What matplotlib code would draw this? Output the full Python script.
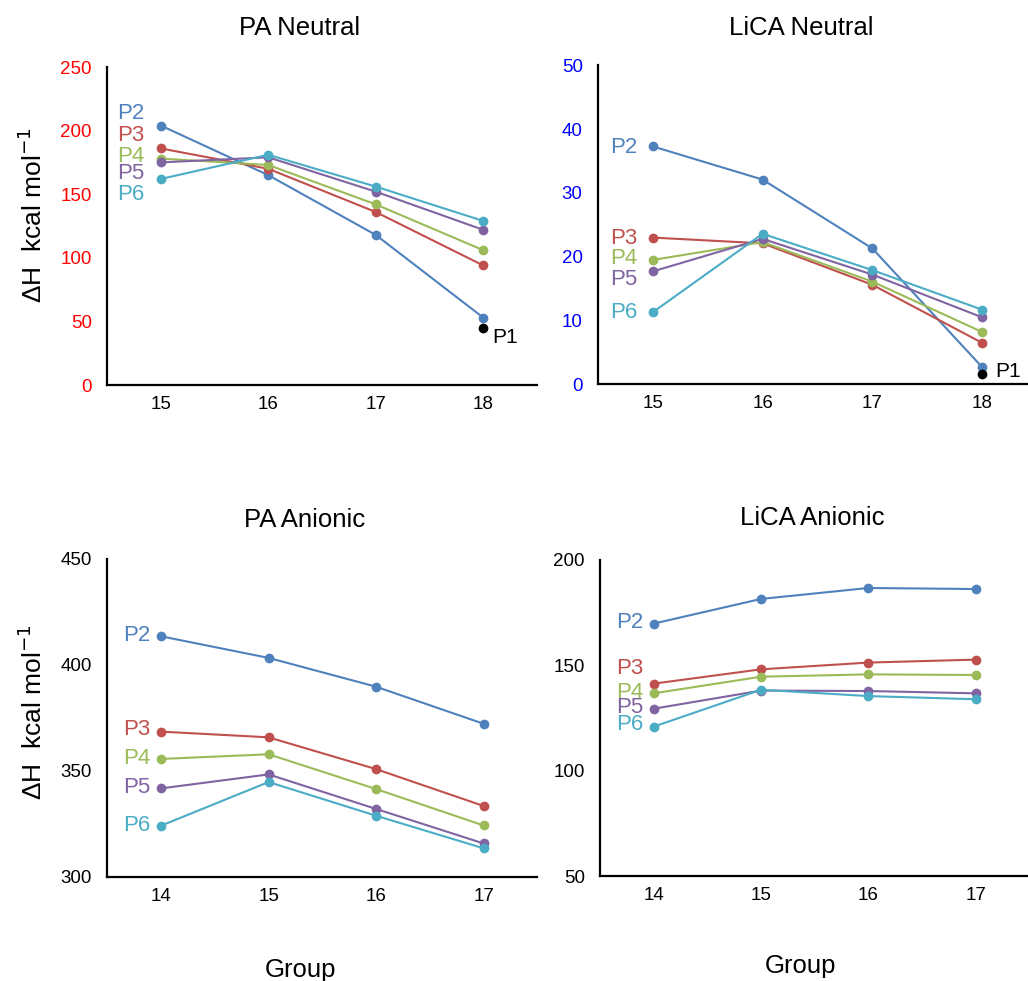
import matplotlib.pyplot as plt

plt.rcParams['font.family'] = ['Liberation Sans', 'DejaVu Sans']

# group numbers on the x axis
groups_neutral = [15, 16, 17, 18]
groups_anionic = [14, 15, 16, 17]

series_names = ['P2', 'P3', 'P4', 'P5', 'P6']
series_colors = ['#4F81BD', '#C0504D', '#9BBB59', '#8064A2', '#4BACC6']

# PA neutral (kcal/mol)
pa_neu_p2 = [204, 165, 118, 53]
pa_neu_p3 = [186, 170, 136, 94]
pa_neu_p4 = [178, 173, 142, 106]
pa_neu_p5 = [175, 179, 152, 122]
pa_neu_p6 = [162, 181, 156, 129]
pa_neu_p1 = 45

# LiCA neutral
lica_neu_p2 = [37.3, 32.1, 21.3, 2.7]
lica_neu_p3 = [23.0, 22.1, 15.6, 6.5]
lica_neu_p4 = [19.5, 22.3, 16.1, 8.2]
lica_neu_p5 = [17.7, 22.8, 17.2, 10.5]
lica_neu_p6 = [11.3, 23.6, 17.9, 11.7]
lica_neu_p1 = 1.6

# PA anionic
pa_ani_p2 = [413.5, 403.3, 389.7, 372.2]
pa_ani_p3 = [368.5, 365.8, 350.8, 333.4]
pa_ani_p4 = [355.6, 357.8, 341.4, 324.2]
pa_ani_p5 = [341.7, 348.3, 332.0, 315.7]
pa_ani_p6 = [324.1, 344.7, 328.8, 313.4]

# LiCA anionic
lica_ani_p2 = [169.8, 181.5, 186.7, 186.2]
lica_ani_p3 = [141.3, 148.1, 151.3, 152.7]
lica_ani_p4 = [136.7, 144.6, 145.7, 145.4]
lica_ani_p5 = [129.4, 138.0, 137.8, 136.7]
lica_ani_p6 = [120.9, 138.4, 135.4, 133.9]

fig = plt.figure(figsize=(10.28, 9.81), dpi=100)

panels = [
    # axes rect, x values, series, ylim, yticks, tick colour, label x, label ys
    ([0.1041, 0.6075, 0.4183, 0.3242], groups_neutral,
     [pa_neu_p2, pa_neu_p3, pa_neu_p4, pa_neu_p5, pa_neu_p6],
     (0, 250), range(0, 251, 50), 'red', 14.85, [213.6, 196.5, 180, 166.4, 150]),
    ([0.5817, 0.6083, 0.4270, 0.3250], groups_neutral,
     [lica_neu_p2, lica_neu_p3, lica_neu_p4, lica_neu_p5, lica_neu_p6],
     (0, 50), range(0, 51, 10), 'blue', 14.86, [37.2, 22.9, 19.8, 16.4, 11.3]),
    ([0.1044, 0.1063, 0.4183, 0.3239], groups_anionic,
     [pa_ani_p2, pa_ani_p3, pa_ani_p4, pa_ani_p5, pa_ani_p6],
     (300, 450), range(300, 451, 50), 'black', 13.90, [413.8, 369.3, 355.9, 342.2, 324.4]),
    ([0.5837, 0.1070, 0.4176, 0.3222], groups_anionic,
     [lica_ani_p2, lica_ani_p3, lica_ani_p4, lica_ani_p5, lica_ani_p6],
     (50, 200), range(50, 201, 50), 'black', 13.90, [170.4, 148.6, 137.2, 129.9, 121.7]),
]

axes = []
for rect, xs, series, ylim, yticks, tcol, lx, lys in panels:
    ax = fig.add_axes(rect)
    for vals, name, col, ly in zip(series, series_names, series_colors, lys):
        ax.plot(xs, vals, color=col, lw=1.5, marker='o', ms=6)
        ax.text(lx, ly, name, color=col, fontsize=16, ha='right', va='center')
    ax.set_xlim(xs[0] - 0.5, xs[-1] + 0.5)
    ax.set_ylim(*ylim)
    ax.set_xticks(xs)
    ax.set_yticks(list(yticks))
    ax.tick_params(axis='both', length=0, labelsize=13.5)
    ax.tick_params(axis='y', pad=11, labelcolor=tcol)
    ax.tick_params(axis='x', pad=8)
    for s in ['top', 'right']:
        ax.spines[s].set_visible(False)
    for s in ['left', 'bottom']:
        ax.spines[s].set_linewidth(1.6)
    ax.set_facecolor('none')
    axes.append(ax)

# P1 reference points
axes[0].plot(18, pa_neu_p1, 'o', color='black', ms=6, clip_on=False)
axes[0].text(18.08, 37, 'P1', fontsize=15, ha='left', va='center')
axes[1].plot(18, lica_neu_p1, 'o', color='black', ms=6, clip_on=False)
axes[1].text(18.12, 2.0, 'P1', fontsize=15, ha='left', va='center')

# titles and labels
fig.text(300 / 1028, 1 - 28 / 981, 'PA Neutral', fontsize=18.5, ha='center', va='center')
fig.text(801 / 1028, 1 - 28 / 981, 'LiCA Neutral', fontsize=18.5, ha='center', va='center')
fig.text(305 / 1028, 1 - 520 / 981, 'PA Anionic', fontsize=18.5, ha='center', va='center')
fig.text(812 / 1028, 1 - 518 / 981, 'LiCA Anionic', fontsize=18.5, ha='center', va='center')

ylab = '\u0394H  kcal mol$^{\u22121}$'
fig.text(33 / 1028, 1 - 215 / 981, ylab, fontsize=19, rotation=90, ha='center', va='center')
fig.text(33 / 1028, 1 - 712 / 981, ylab, fontsize=19, rotation=90, ha='center', va='center')

fig.text(300 / 1028, 1 - 970 / 981, 'Group', fontsize=18.5, ha='center', va='center')
fig.text(801 / 1028, 1 - 966 / 981, 'Group', fontsize=18.5, ha='center', va='center')

fig.savefig('out.png', dpi=100)
